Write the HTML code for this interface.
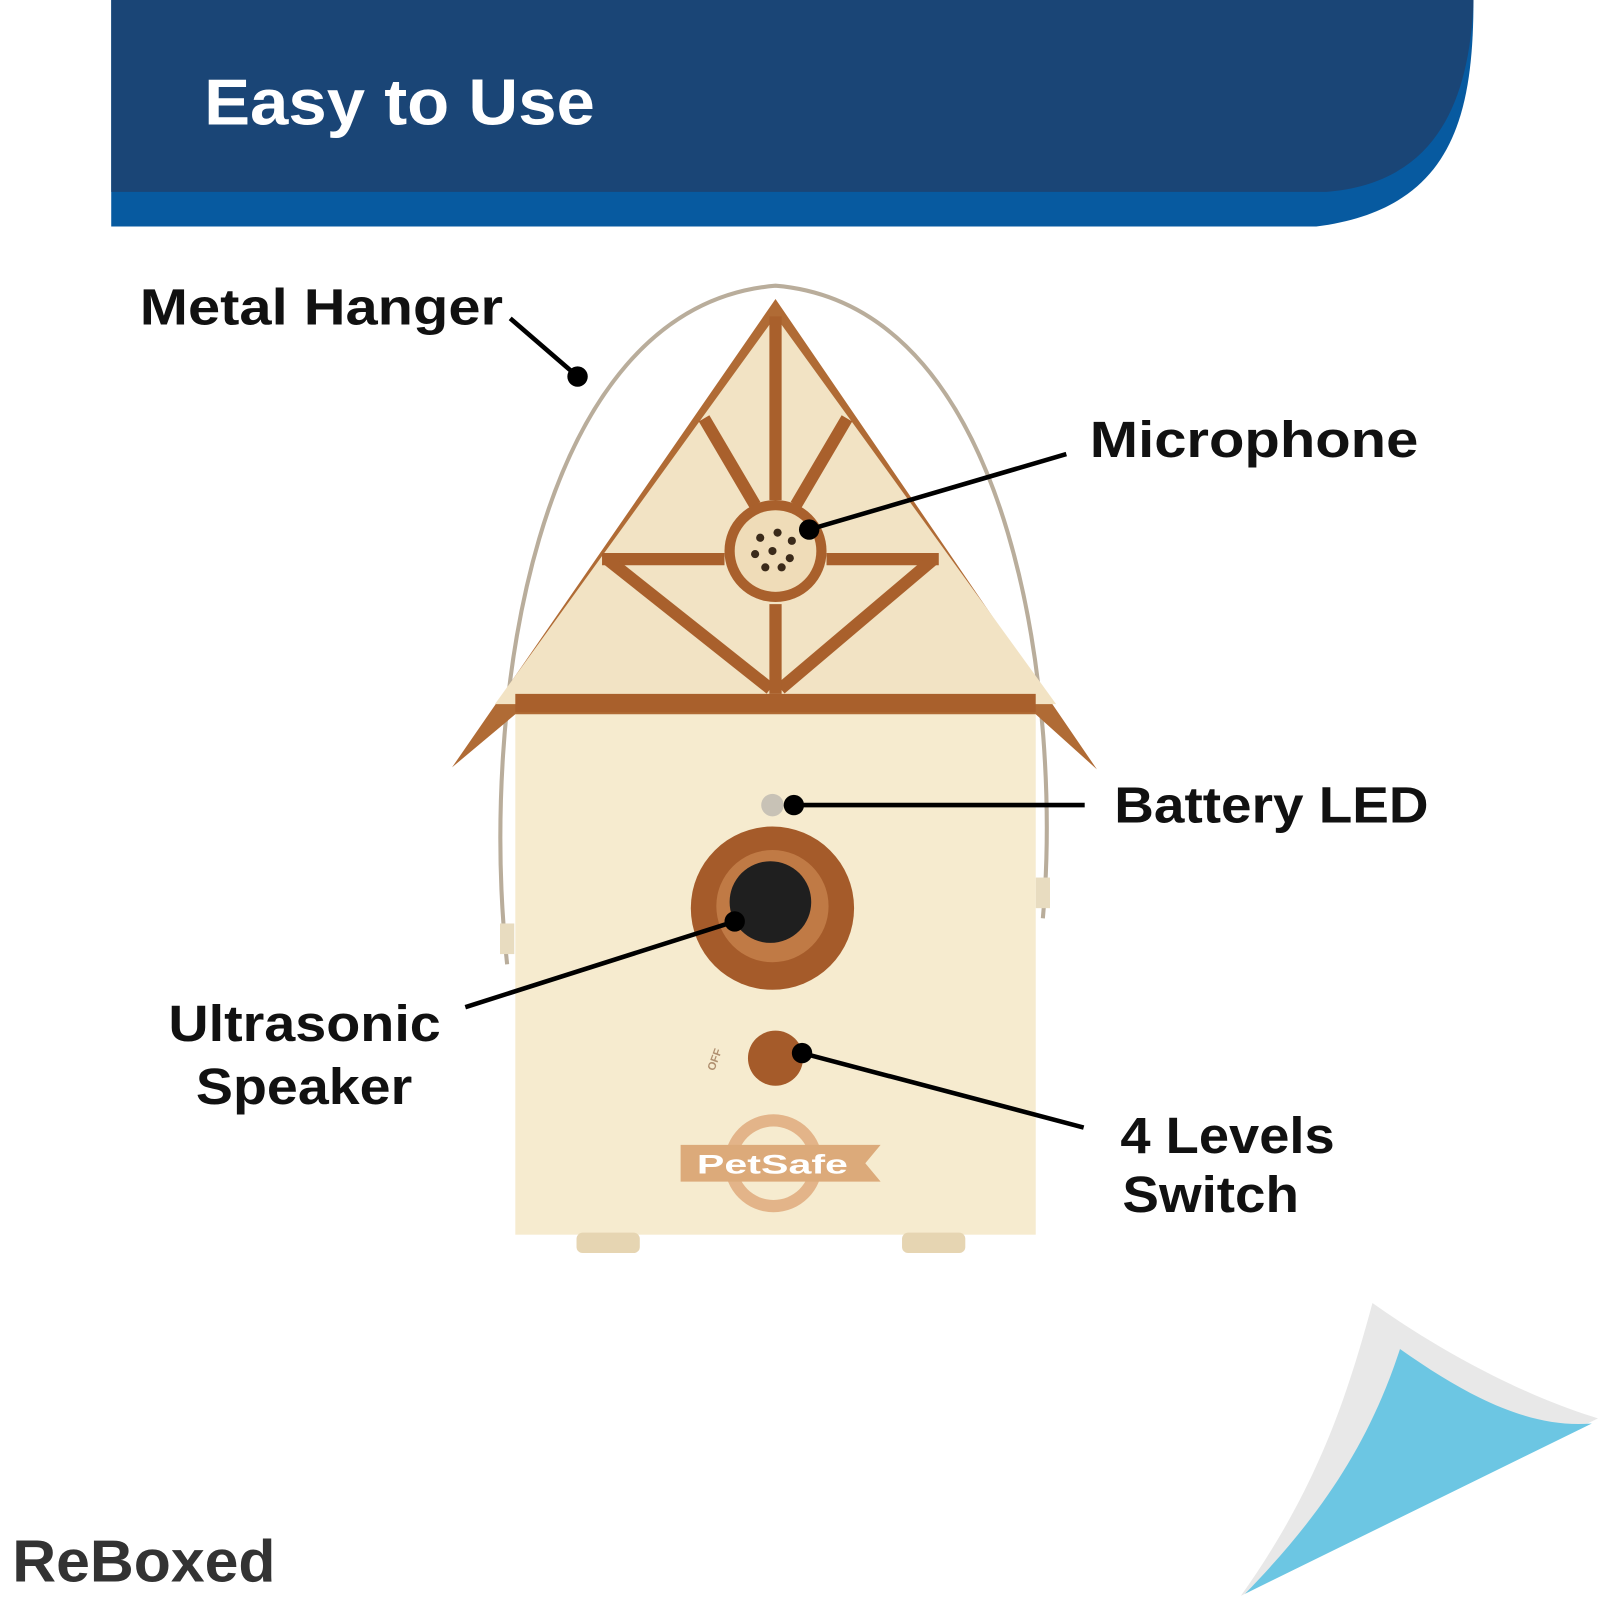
<!DOCTYPE html>
<html><head><style>
html,body{margin:0;padding:0;background:#fff;}
svg{display:block;}
text{font-family:"Liberation Sans",sans-serif;font-weight:bold;}
</style></head><body>
<svg width="1600" height="1600" viewBox="0 0 1568 1568" xmlns="http://www.w3.org/2000/svg">
<rect width="1568" height="1568" fill="#fff"/>
<!-- header -->
<path d="M109,0 H1444 C1444,120 1420,205 1290,222 H109 Z" fill="#075aa0"/>
<path d="M109,0 H1444 C1440,110 1400,180 1300,188 H109 Z" fill="#1a4576"/>
<text x="200" y="122" font-size="64" fill="#fff" textLength="383" lengthAdjust="spacingAndGlyphs">Easy to Use</text>

<!-- hanger -->
<path d="M497,945 C470,700 520,300 760,280 C1000,300 1040,700 1022,900" fill="none" stroke="#b9ad9b" stroke-width="4"/>
<rect x="490" y="905" width="14" height="30" fill="#e8dcc0"/>
<rect x="1015" y="860" width="14" height="30" fill="#e8dcc0"/>

<!-- body -->
<rect x="505" y="690" width="510" height="520" fill="#f6ebcf"/>
<rect x="565" y="1208" width="62" height="20" rx="6" fill="#e6d5b2"/>
<rect x="884" y="1208" width="62" height="20" rx="6" fill="#e6d5b2"/>
<!-- roof -->
<polygon points="760,293 443,752 505,700 1015,700 1075,754" fill="#b06b35"/>
<polygon points="760,310 485,690 1035,690" fill="#f2e3c4"/>
<g stroke="#a9602c" stroke-width="12" fill="none">
<line x1="760" y1="310" x2="760" y2="490"/>
<line x1="690" y1="410" x2="740" y2="495"/>
<line x1="830" y1="410" x2="780" y2="495"/>
<line x1="590" y1="548" x2="710" y2="548"/>
<line x1="810" y1="548" x2="920" y2="548"/>
<line x1="595" y1="548" x2="755" y2="675"/>
<line x1="915" y1="548" x2="765" y2="675"/>
<line x1="760" y1="592" x2="760" y2="680"/>
</g>
<rect x="505" y="680" width="510" height="18" fill="#a9602c"/>
<circle cx="760" cy="540" r="50" fill="#a9602c"/>
<circle cx="760" cy="540" r="40" fill="#efdcb8"/>
<g fill="#3a2a1a">
<circle cx="745" cy="527" r="4"/><circle cx="762" cy="522" r="4"/><circle cx="776" cy="530" r="4"/>
<circle cx="740" cy="543" r="4"/><circle cx="757" cy="540" r="4"/><circle cx="774" cy="547" r="4"/>
<circle cx="750" cy="556" r="4"/><circle cx="766" cy="556" r="4"/>
</g>
<!-- LED -->
<circle cx="757" cy="789" r="11" fill="#c8c2b6"/>
<!-- speaker -->
<circle cx="757" cy="890" r="80" fill="#a55b2a"/>
<circle cx="757" cy="888" r="55" fill="#c07a45"/>
<circle cx="755" cy="884" r="40" fill="#1f1f1f"/>
<!-- switch -->
<circle cx="760" cy="1037" r="27" fill="#a55b2a"/>
<text x="700" y="1050" font-size="11" fill="#b09070" font-weight="normal" transform="rotate(-70 700 1050)">OFF</text>
<!-- logo -->
<circle cx="758" cy="1140" r="48" fill="#e3b489"/>
<circle cx="758" cy="1140" r="36" fill="#f6ebcf"/>
<polygon points="667,1122 863,1122 848,1140 863,1158 667,1158" fill="#dcaa7a"/>
<text x="683" y="1150" font-size="26" fill="#fff" textLength="148" lengthAdjust="spacingAndGlyphs">PetSafe</text>

<!-- connectors -->
<g stroke="#000" stroke-width="4.5">
<line x1="500" y1="312" x2="566" y2="369"/>
<line x1="1045" y1="445" x2="793" y2="519"/>
<line x1="1063" y1="789" x2="778" y2="789"/>
<line x1="456" y1="987" x2="720" y2="903"/>
<line x1="1062" y1="1105" x2="786" y2="1032"/>
</g>
<g fill="#000">
<circle cx="566" cy="369" r="10"/><circle cx="793" cy="519" r="10"/>
<circle cx="778" cy="789" r="10"/><circle cx="720" cy="903" r="10"/>
<circle cx="786" cy="1032" r="10"/>
</g>

<!-- labels -->
<g font-size="50" fill="#111" lengthAdjust="spacingAndGlyphs">
<text x="137" y="318" textLength="356" lengthAdjust="spacingAndGlyphs">Metal Hanger</text>
<text x="1068" y="448" textLength="322" lengthAdjust="spacingAndGlyphs">Microphone</text>
<text x="1092" y="806" textLength="308" lengthAdjust="spacingAndGlyphs">Battery LED</text>
<text x="165" y="1020" textLength="267" lengthAdjust="spacingAndGlyphs">Ultrasonic</text>
<text x="192" y="1082" textLength="212" lengthAdjust="spacingAndGlyphs">Speaker</text>
<text x="1098" y="1130" textLength="210" lengthAdjust="spacingAndGlyphs">4 Levels</text>
<text x="1100" y="1188" textLength="173" lengthAdjust="spacingAndGlyphs">Switch</text>
</g>

<!-- corner -->
<path d="M1345,1277 C1420,1330 1500,1370 1566,1390 L1216,1564 C1290,1460 1320,1370 1345,1277 Z" fill="#e8e8e8"/>
<path d="M1372,1322 C1440,1370 1500,1400 1560,1395 L1220,1562 C1290,1490 1340,1420 1372,1322 Z" fill="#6cc6e3"/>

<text x="12" y="1550" font-size="58" fill="#333" textLength="258" lengthAdjust="spacingAndGlyphs">ReBoxed</text>
</svg>
</body></html>
